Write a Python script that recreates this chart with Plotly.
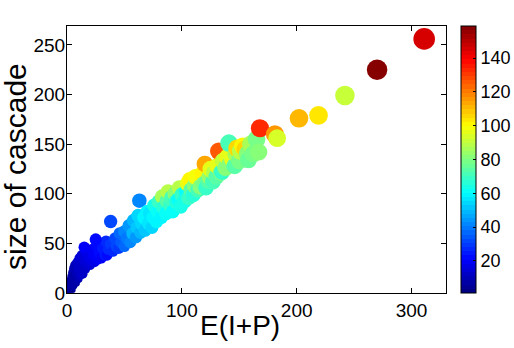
import plotly.graph_objects as go

# E(I+P), size of cascade, colour value
x_vals = [0.5, 1, 1.5, 2, 2, 3, 3, 4, 4, 5, 5, 5, 6, 6, 7, 7, 8, 8, 9, 10, 10, 11, 12, 12,
          13, 14, 14, 15, 16, 17, 18, 19, 20, 21, 22, 23, 24, 25, 26, 27, 28, 29, 30, 31,
          33, 34, 35, 36, 38, 38, 40, 42, 43, 45, 46, 47, 49, 15, 25,
          50, 50, 52, 54, 55, 57, 58, 60, 61, 62, 63, 64, 65, 67, 68, 70, 71, 72, 74, 75,
          76, 78, 79, 80, 82, 83, 84, 86, 87, 88, 90, 91, 92, 94, 95, 97, 98, 99, 100,
          102, 104, 105, 106, 107, 108, 110, 111, 112, 114, 116, 118, 119, 120, 121, 123,
          124, 125, 127, 128, 130, 131, 132, 134, 135, 136, 138, 140, 141, 142, 144, 146,
          147, 148, 150, 151, 153, 155, 157, 158, 160, 162, 165, 167, 168, 181, 183,
          202, 219, 242, 270, 311]
y_vals = [1, 3, 6, 2, 9, 5, 13, 8, 17, 3, 12, 21, 7, 25, 15, 28, 10, 20, 31, 14, 24, 35, 18, 29,
          38, 19, 26, 32, 24, 41, 30, 35, 28, 33, 44, 38, 31, 36, 48, 34, 41, 38, 35, 45,
          38, 52, 38, 44, 72, 49, 42, 55, 47, 45, 60, 51, 58, 46, 54,
          47, 62, 55, 68, 51, 60, 73, 56, 66, 78, 93, 61, 70, 76, 63, 82, 70, 80, 66, 76,
          88, 72, 82, 92, 76, 97, 86, 80, 93, 102, 88, 96, 82, 100, 92, 94, 106, 87, 99,
          92, 102, 110, 96, 114, 104, 99, 108, 117, 104, 107, 120, 110, 130, 106, 113,
          117, 125, 112, 121, 117, 128, 143, 121, 122, 133, 126, 137, 151, 130, 135, 128,
          140, 146, 133, 143, 148, 145, 140, 134, 150, 140, 155, 142, 166, 160, 156,
          176, 179, 199, 225, 256]
c_vals = [2, 3, 3, 4, 4, 5, 5, 6, 6, 5, 7, 8, 7, 9, 8, 10, 8, 9, 12, 9, 11, 14, 11, 13,
          15, 11, 13, 15, 13, 18, 15, 17, 15, 17, 20, 19, 17, 19, 22, 19, 21, 22, 20, 24,
          24, 26, 23, 27, 33, 29, 27, 32, 31, 30, 37, 35, 38, 20, 22,
          36, 42, 40, 45, 42, 48, 50, 45, 52, 55, 41, 50, 55, 58, 52, 60, 57, 57, 55, 58,
          64, 58, 62, 70, 60, 86, 66, 61, 75, 88, 68, 72, 62, 80, 66, 61, 88, 64, 70,
          63, 62, 95, 68, 100, 75, 66, 80, 98, 72, 82, 102, 78, 113, 70, 75,
          83, 95, 72, 88, 74, 95, 125, 78, 70, 92, 80, 96, 72, 80, 97, 74,
          85, 106, 78, 88, 102, 106, 80, 76, 85, 78, 78, 80, 133, 115, 93,
          112, 104, 92, 158, 146]

# marker area grows with cascade size
sizes = [4 + 1.1 * v ** 0.5 for v in y_vals]


def _jet(n=64):
    """stepped MATLAB-style jet colormap as a plotly colorscale"""
    clip = lambda v: max(0.0, min(1.0, v))
    scale = []
    for i in range(n):
        f = (i + 0.5) / n
        r = clip(1.5 - abs(4 * f - 3))
        g = clip(1.5 - abs(4 * f - 2))
        b = clip(1.5 - abs(4 * f - 1))
        col = f"rgb({r*255:.0f},{g*255:.0f},{b*255:.0f})"
        scale.append([i / n, col])
        scale.append([(i + 1) / n, col])
    return scale


font = "Liberation Sans, Arial, sans-serif"
W, H = 514, 348
L, R, T, B = 67, 68, 26, 55
pw, ph = W - L - R, H - T - B

fig = go.Figure(go.Scatter(
    x=x_vals, y=y_vals, mode="markers",
    marker=dict(size=sizes, color=c_vals, colorscale=_jet(), cmin=1, cmax=159,
                line=dict(width=0), opacity=1,
                colorbar=dict(thickness=15, len=1.0, lenmode="fraction",
                              xref="container", x=461 / W, xanchor="left",
                              y=0.5, yanchor="middle",
                              xpad=0, ypad=0,
                              outlinecolor="black", outlinewidth=1,
                              tickvals=[20, 40, 60, 80, 100, 120, 140],
                              ticks="inside", ticklen=3, tickcolor="black",
                              tickfont=dict(size=18, color="black", family=font))),
    showlegend=False,
))

axis = dict(showline=True, linecolor="black", linewidth=1, mirror="ticks",
            ticks="inside", ticklen=5, tickcolor="black", showgrid=False,
            zeroline=False, tickfont=dict(size=19, color="black", family=font))

fig.update_xaxes(range=[0, 330], tickvals=[0, 100, 200, 300], **axis)
fig.update_yaxes(range=[0, 269], tickvals=[0, 50, 100, 150, 200, 250],
                 ticklabelstandoff=-3, **axis)

fig.update_layout(
    width=W, height=H,
    margin=dict(l=L, r=R, t=T, b=B, autoexpand=False),
    paper_bgcolor="white", plot_bgcolor="white",
    font=dict(family=font, color="black"),
    annotations=[
        dict(text="E(I+P)", xref="paper", yref="paper",
             x=(240 - L) / pw, y=(293 - 325) / ph, xanchor="center", yanchor="middle",
             showarrow=False, font=dict(size=28)),
        dict(text="size of cascade", xref="paper", yref="paper",
             x=(15 - L) / pw, y=(293 - 167) / ph, xanchor="center", yanchor="middle",
             showarrow=False, textangle=-90, font=dict(size=30)),
    ],
)

fig.write_html("out.html", config={"displayModeBar": False},
               post_script="document.body.style.margin='0';")
